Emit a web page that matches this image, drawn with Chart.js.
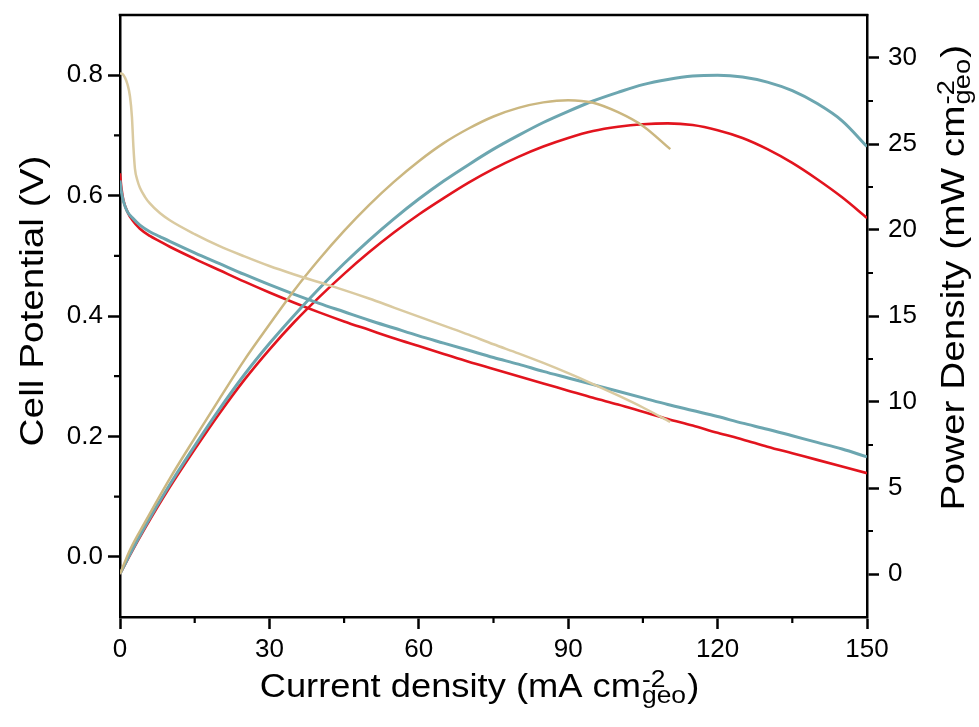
<!DOCTYPE html>
<html>
<head>
<meta charset="utf-8">
<script src="https://cdn.jsdelivr.net/npm/chart.js@4.4.1/dist/chart.umd.min.js"></script>
<style>
  html, body { margin: 0; padding: 0; background: #ffffff; }
  canvas { display: block; }
</style>
</head>
<body>
<canvas id="chart" width="979" height="727"></canvas>
<script>
// ---- Axis ticks ----
const currentTicks = [0, 30, 60, 90, 120, 150];
const currentMinorTicks = [15, 45, 75, 105, 135];
const potentialTicks = [0.0, 0.2, 0.4, 0.6, 0.8];
const potentialMinorTicks = [0.1, 0.3, 0.5, 0.7];
const powerTicks = [0, 5, 10, 15, 20, 25, 30];
const powerMinorTicks = [2.5, 7.5, 12.5, 17.5, 22.5, 27.5];

// ---- Polarization curves: current density (mA cm-2) and cell potential (V) ----
const tanPolCurrent   = [0, 0.5, 1.0, 1.5, 2.0, 2.4, 2.7, 3.0, 3.5, 4, 5, 6, 8, 10, 15, 20, 25, 30, 35, 40, 45, 50, 55, 60, 65, 70, 75, 80, 85, 90, 95, 100, 105, 110.5];
const tanPolPotential = [0.803, 0.802, 0.796, 0.785, 0.765, 0.730, 0.680, 0.645, 0.625, 0.613, 0.598, 0.587, 0.571, 0.559, 0.536, 0.516, 0.499, 0.483, 0.469, 0.456, 0.443, 0.429, 0.414, 0.399, 0.384, 0.369, 0.353, 0.338, 0.322, 0.305, 0.287, 0.268, 0.248, 0.224];

const tealPolCurrent   = [0, 0.3, 0.7, 1.5, 2.5, 4, 6, 8, 10, 15, 20, 25, 30, 35, 40, 45, 50, 55, 60, 65, 70, 75, 80, 85, 90, 95, 100, 105, 110, 115, 120, 125, 130, 135, 140, 145, 150];
const tealPolPotential = [0.625, 0.605, 0.590, 0.573, 0.563, 0.551, 0.540, 0.532, 0.524, 0.505, 0.487, 0.469, 0.452, 0.436, 0.421, 0.407, 0.393, 0.380, 0.367, 0.355, 0.343, 0.331, 0.320, 0.308, 0.297, 0.286, 0.275, 0.264, 0.253, 0.243, 0.233, 0.222, 0.212, 0.201, 0.190, 0.179, 0.166];

const redPolCurrent   = [0, 0.3, 0.7, 1.5, 2.5, 4, 6, 8, 10, 15, 20, 25, 30, 35, 40, 45, 50, 55, 60, 65, 70, 75, 80, 85, 90, 95, 100, 105, 110, 115, 120, 125, 130, 135, 140, 145, 150];
const redPolPotential = [0.637, 0.612, 0.592, 0.573, 0.559, 0.545, 0.533, 0.524, 0.515, 0.495, 0.476, 0.457, 0.439, 0.422, 0.406, 0.391, 0.377, 0.363, 0.350, 0.337, 0.324, 0.312, 0.300, 0.288, 0.276, 0.264, 0.253, 0.241, 0.229, 0.218, 0.206, 0.195, 0.183, 0.172, 0.161, 0.150, 0.139];

// ---- Power density curves: current density (mA cm-2) and power density (mW cm-2) ----
const tanPowCurrent = [0, 2, 5, 10, 15, 20, 25, 30, 35, 40, 45, 50, 55, 60, 65, 70, 75, 80, 85, 90, 95, 100, 105, 110.5];
const tanPowDensity = [0, 1.4, 3.0, 5.55, 7.9, 10.2, 12.45, 14.5, 16.5, 18.3, 19.95, 21.45, 22.8, 24.0, 25.05, 25.9, 26.6, 27.1, 27.42, 27.55, 27.4, 26.85, 26.05, 24.7];

const tealPowCurrent = [0, 2, 5, 10, 15, 20, 25, 30, 35, 40, 45, 50, 55, 60, 65, 70, 75, 80, 85, 90, 95, 100, 105, 110, 115, 120, 125, 130, 135, 140, 145, 150];
const tealPowDensity = [0, 1.15, 2.75, 5.2, 7.45, 9.6, 11.6, 13.4, 15.05, 16.6, 18.05, 19.4, 20.65, 21.8, 22.85, 23.8, 24.7, 25.5, 26.25, 26.9, 27.5, 28.0, 28.45, 28.75, 28.95, 29.0, 28.9, 28.6, 28.1, 27.35, 26.35, 24.85];

const redPowCurrent = [0, 2, 5, 10, 15, 20, 25, 30, 35, 40, 45, 50, 55, 60, 65, 70, 75, 80, 85, 90, 95, 100, 105, 110, 115, 120, 125, 130, 135, 140, 145, 150];
const redPowDensity = [0, 1.1, 2.65, 5.05, 7.25, 9.35, 11.3, 13.05, 14.65, 16.1, 17.45, 18.7, 19.85, 20.9, 21.85, 22.75, 23.55, 24.25, 24.85, 25.35, 25.75, 26.0, 26.15, 26.2, 26.1, 25.8, 25.35, 24.7, 23.9, 22.95, 21.9, 20.7];

// ---- Styling ----
const FONT = "'Liberation Sans', Arial, Helvetica, sans-serif";
const TAN = 'rgb(203,183,128)';
const TAN_LIGHT = 'rgb(218,202,160)';
const TEAL = 'rgb(108,166,176)';
const RED = 'rgb(226,20,30)';
const SMALL_SIZE = 24;

const toPoints = (xs, ys) => xs.map((x, i) => ({ x: x, y: ys[i] }));

function lineSet(label, xs, ys, color, width, axis) {
  return {
    label: label,
    data: toPoints(xs, ys),
    yAxisID: axis,
    borderColor: color,
    backgroundColor: color,
    borderWidth: width,
    pointRadius: 0,
    pointHoverRadius: 0,
    showLine: true,
    fill: false,
    cubicInterpolationMode: 'monotone'
  };
}

// Measures "pre" + stacked superscript/subscript + "post" (unstretched units).
function richWidth(ctx, parts, size) {
  ctx.font = size + 'px ' + FONT;
  let w = ctx.measureText(parts[0]).width + ctx.measureText(parts[3]).width;
  ctx.font = SMALL_SIZE + 'px ' + FONT;
  w += Math.max(ctx.measureText(parts[1]).width, ctx.measureText(parts[2]).width) + 3;
  return w;
}

// Draws the rich title with its left end at (0,0) on the baseline, in the current transform.
function drawRichText(ctx, parts, size) {
  ctx.textBaseline = 'alphabetic';
  ctx.textAlign = 'left';
  ctx.font = size + 'px ' + FONT;
  ctx.fillText(parts[0], 0, 0);
  let cx = ctx.measureText(parts[0]).width;
  ctx.font = SMALL_SIZE + 'px ' + FONT;
  const wSup = ctx.measureText(parts[1]).width;
  const wSub = ctx.measureText(parts[2]).width;
  ctx.fillText(parts[1], cx + 1, -10);
  ctx.fillText(parts[2], cx + 1, 6);
  cx += Math.max(wSup, wSub) + 2;
  ctx.font = size + 'px ' + FONT;
  ctx.fillText(parts[3], cx, 0);
}

// Top frame edge, minor ticks and axis titles.
const frameExtras = {
  id: 'frameExtras',
  afterDraw(chart) {
    const { ctx, chartArea: a, scales } = chart;
    ctx.save();
    ctx.strokeStyle = '#000';
    ctx.fillStyle = '#000';
    ctx.lineCap = 'butt';

    ctx.lineWidth = 2.5;
    ctx.beginPath();
    ctx.moveTo(a.left - 1.25, a.top);
    ctx.lineTo(a.right + 1.25, a.top);
    ctx.stroke();

    ctx.lineWidth = 2.2;
    const minorLen = 6;
    ctx.beginPath();
    currentMinorTicks.forEach(v => {
      const px = scales.x.getPixelForValue(v);
      ctx.moveTo(px, a.bottom); ctx.lineTo(px, a.bottom + minorLen);
    });
    potentialMinorTicks.forEach(v => {
      const py = scales.y.getPixelForValue(v);
      ctx.moveTo(a.left, py); ctx.lineTo(a.left - minorLen, py);
    });
    powerMinorTicks.forEach(v => {
      const py = scales.y2.getPixelForValue(v);
      ctx.moveTo(a.right, py); ctx.lineTo(a.right + minorLen, py);
    });
    ctx.stroke();

    // Bottom axis title
    const xSize = 33, xStretch = 1.1;
    const xt = ['Current density (mA cm', '-2', 'geo', ')'];
    const wx = richWidth(ctx, xt, xSize) * xStretch;
    ctx.save();
    ctx.translate(480 - wx / 2, 697);
    ctx.scale(xStretch, 1);
    drawRichText(ctx, xt, xSize);
    ctx.restore();

    // Vertical titles
    const vSize = 34, vStretch = 1.14;

    ctx.save();
    ctx.translate(43, 301);
    ctx.rotate(-Math.PI / 2);
    ctx.scale(vStretch, 1);
    ctx.font = vSize + 'px ' + FONT;
    ctx.textAlign = 'center';
    ctx.textBaseline = 'alphabetic';
    ctx.fillText('Cell Potential (V)', 0, 0);
    ctx.restore();

    const yt = ['Power Density (mW cm', '-2', 'geo', ')'];
    const wy = richWidth(ctx, yt, vSize) * vStretch;
    ctx.save();
    ctx.translate(964, 277 + wy / 2);
    ctx.rotate(-Math.PI / 2);
    ctx.scale(vStretch, 1);
    drawRichText(ctx, yt, vSize);
    ctx.restore();

    ctx.restore();
  }
};

function axisStyle(extra) {
  return Object.assign({
    type: 'linear',
    border: { display: true, color: '#000', width: 2.5 },
    grid: { drawOnChartArea: false, drawTicks: true, tickLength: 12, tickWidth: 2.5, tickColor: '#000' },
    ticks: { color: '#000', font: { family: FONT, size: 26 }, autoSkip: false, maxRotation: 0 }
  }, extra);
}

const xAxis = axisStyle({
  position: 'bottom', min: 0, max: 150,
  afterBuildTicks: s => { s.ticks = currentTicks.map(v => ({ value: v })); },
  afterFit: s => { s.height = 110; s.paddingLeft = 0; s.paddingRight = 0; }
});
xAxis.ticks = Object.assign({}, xAxis.ticks, { padding: 5, callback: v => String(v) });

const yAxis = axisStyle({
  position: 'left', min: -0.1, max: 0.9,
  afterBuildTicks: s => { s.ticks = potentialTicks.map(v => ({ value: v })); },
  afterFit: s => { s.width = 120; s.paddingTop = 0; s.paddingBottom = 0; }
});
yAxis.ticks = Object.assign({}, yAxis.ticks, { padding: 5, callback: v => Number(v).toFixed(1) });

const y2Axis = axisStyle({
  position: 'right', min: -2.5, max: 32.5,
  afterBuildTicks: s => { s.ticks = powerTicks.map(v => ({ value: v })); },
  afterFit: s => { s.width = 112; s.paddingTop = 0; s.paddingBottom = 0; }
});
y2Axis.ticks = Object.assign({}, y2Axis.ticks, { padding: 9, callback: v => String(v) });

new Chart(document.getElementById('chart'), {
  type: 'scatter',
  data: {
    datasets: [
      lineSet('tan polarization', tanPolCurrent, tanPolPotential, TAN_LIGHT, 2.5, 'y'),
      lineSet('tan power', tanPowCurrent, tanPowDensity, TAN, 2.5, 'y2'),
      lineSet('teal polarization', tealPolCurrent, tealPolPotential, TEAL, 3, 'y'),
      lineSet('teal power', tealPowCurrent, tealPowDensity, TEAL, 3, 'y2'),
      lineSet('red polarization', redPolCurrent, redPolPotential, RED, 2.6, 'y'),
      lineSet('red power', redPowCurrent, redPowDensity, RED, 2.6, 'y2')
    ]
  },
  options: {
    responsive: false,
    animation: false,
    devicePixelRatio: 1,
    layout: { padding: { top: 15, left: 0, right: 0, bottom: 0 } },
    plugins: { legend: { display: false }, tooltip: { enabled: false } },
    scales: { x: xAxis, y: yAxis, y2: y2Axis }
  },
  plugins: [frameExtras]
});
</script>
</body>
</html>
